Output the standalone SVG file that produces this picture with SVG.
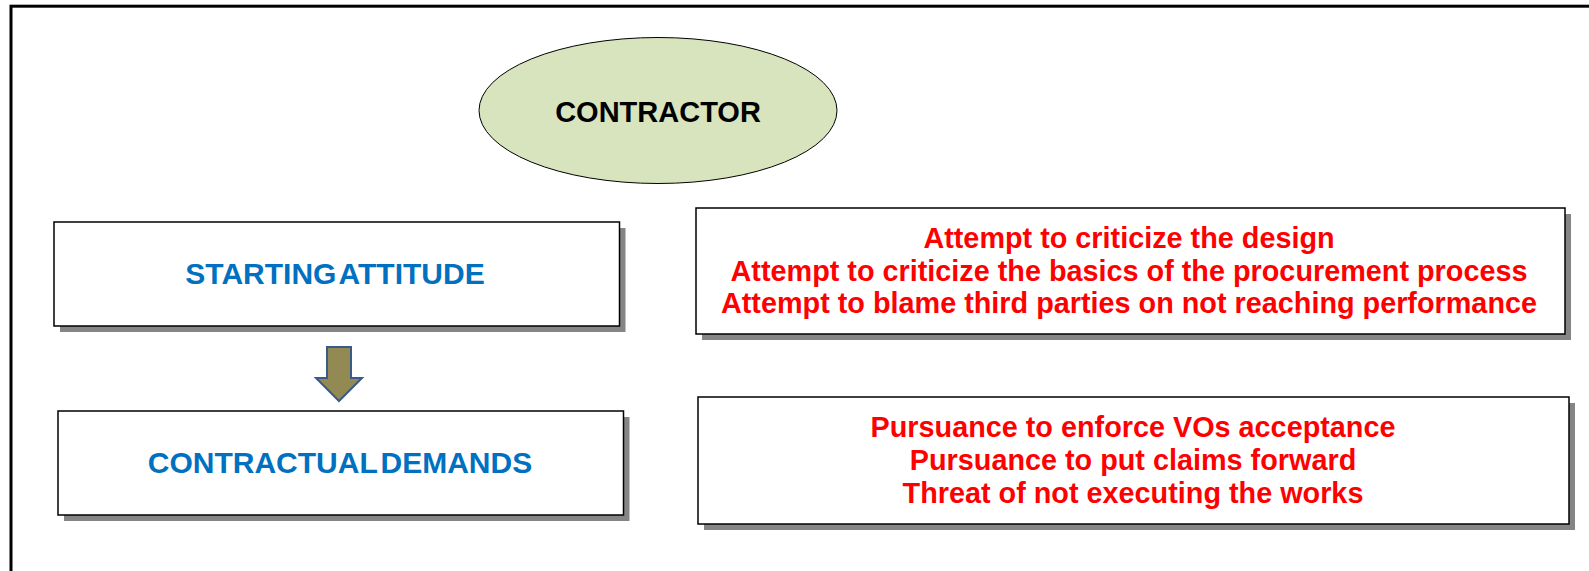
<svg xmlns="http://www.w3.org/2000/svg" width="1589" height="571" viewBox="0 0 1589 571">
<style>
.box{fill:#ffffff;stroke:#000000;stroke-width:1.5}
.shadow{fill:#858585}
.blue{font-family:"Liberation Sans",Arial,sans-serif;font-weight:bold;font-size:30px;fill:#0070C0;text-anchor:middle}
.red{font-family:"Liberation Sans",Arial,sans-serif;font-weight:bold;font-size:28.8px;fill:#FF0000;text-anchor:middle}
.black{font-family:"Liberation Sans",Arial,sans-serif;font-weight:bold;font-size:29px;fill:#000000;text-anchor:middle}
</style>
<rect x="0" y="0" width="1589" height="571" fill="#ffffff"/>
<g id="frame">
<rect x="11" y="6.2" width="1600" height="600" fill="none" stroke="#000000" stroke-width="3"/>
</g>
<g id="contractor">
<ellipse cx="658" cy="110.5" rx="179" ry="73" fill="#D7E4BD" stroke="#000000" stroke-width="1"/>
<text class="black" x="658" y="121.5">CONTRACTOR</text>
</g>
<g id="starting-attitude">
<rect class="shadow" x="60" y="228" width="565.5" height="104"/>
<rect class="box" x="54" y="222" width="565.5" height="104"/>
<text class="blue" x="335" y="284" word-spacing="-5">STARTING ATTITUDE</text>
</g>
<g id="contractual-demands">
<rect class="shadow" x="64" y="417" width="565.5" height="104"/>
<rect class="box" x="58" y="411" width="565.5" height="104"/>
<text class="blue" x="340" y="473" word-spacing="-5">CONTRACTUAL DEMANDS</text>
</g>
<g id="attitude-details">
<rect class="shadow" x="702" y="214" width="869" height="126"/>
<rect class="box" x="696" y="208" width="869" height="126"/>
<text class="red" x="1129" y="248">Attempt to criticize the design</text>
<text class="red" x="1129" y="281">Attempt to criticize the basics of the procurement process</text>
<text class="red" x="1129" y="313">Attempt to blame third parties on not reaching performance</text>
</g>
<g id="demands-details">
<rect class="shadow" x="704" y="403" width="871" height="127"/>
<rect class="box" x="698" y="397" width="871" height="127"/>
<text class="red" x="1133" y="437">Pursuance to enforce VOs acceptance</text>
<text class="red" x="1133" y="470">Pursuance to put claims forward</text>
<text class="red" x="1133" y="503">Threat of not executing the works</text>
</g>
<g id="connectors">
<path d="M327,347 L351,347 L351,378 L362,378 L339,401 L316,378 L327,378 Z" fill="#938953" stroke="#3A5A87" stroke-width="2" stroke-linejoin="miter"/>
</g>
</svg>
